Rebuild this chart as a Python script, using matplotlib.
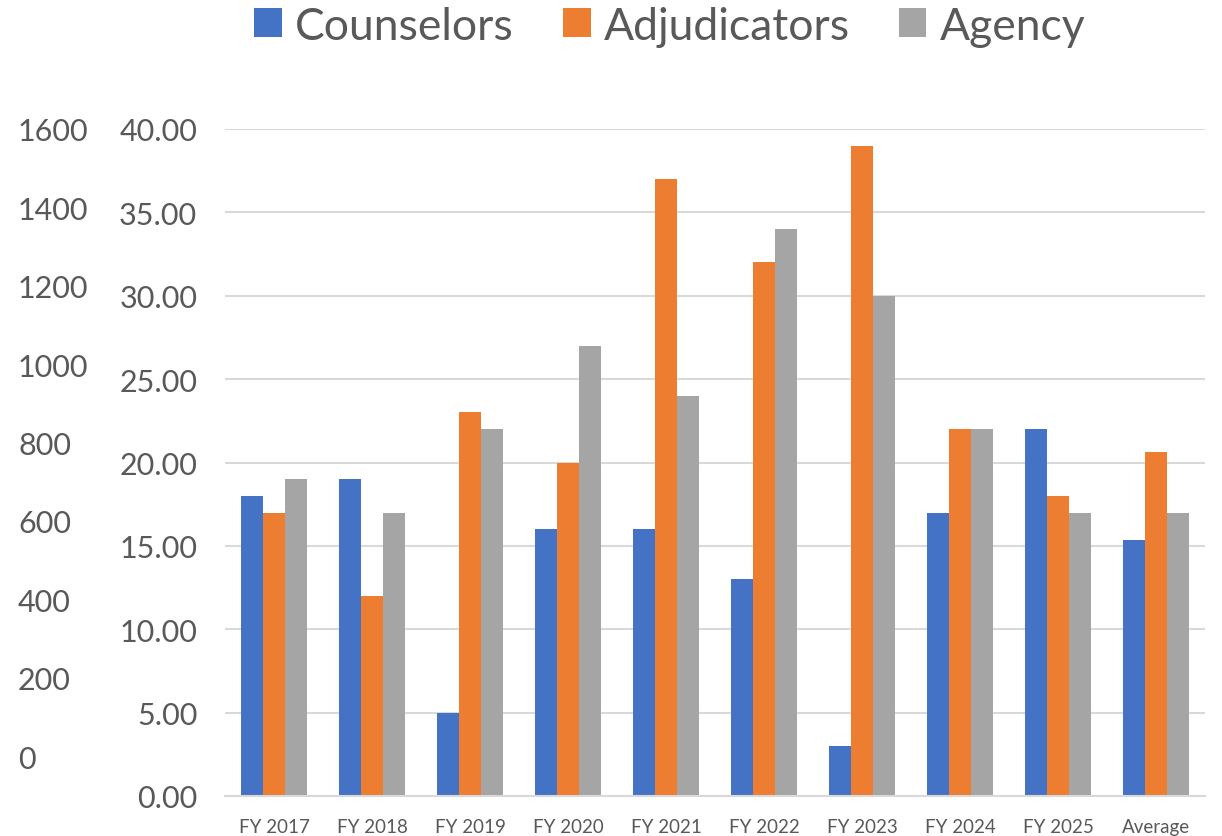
import matplotlib
matplotlib.use("Agg")
import matplotlib.pyplot as plt
import numpy as np
from matplotlib.patches import Patch

categories = ["FY 2017", "FY 2018", "FY 2019", "FY 2020", "FY 2021",
              "FY 2022", "FY 2023", "FY 2024", "FY 2025", "Average"]
counselors = [18, 19, 5, 16, 16, 13, 3, 17, 22, 15.33]
adjudicators = [17, 12, 23, 20, 37, 32, 39, 22, 18, 20.65]
agency = [19, 17, 22, 27, 24, 34, 30, 22, 17, 17.0]
series_names = ["Counselors", "Adjudicators", "Agency"]
colors = ["#4472C4", "#ED7D31", "#A5A5A5"]
left_ticks = [0, 200, 400, 600, 800, 1000, 1200, 1400, 1600]
main_ticks = [0, 5, 10, 15, 20, 25, 30, 35, 40]

FONT = "Lato"
TXT = "#595959"
GRID = "#D9D9D9"

W, H = 1222, 837
fig = plt.figure(figsize=(W / 100, H / 100), dpi=100)
L, R, B, T = 225, 1205, 797, 130
ax = fig.add_axes([L / W, 1 - B / H, (R - L) / W, (B - T) / H])

x = np.arange(len(categories))
bw = 0.2245
for i, (vals, c) in enumerate(zip([counselors, adjudicators, agency], colors)):
    ax.bar(x + (i - 1) * bw, vals, width=bw, color=c, zorder=3)

ax.set_xlim(-0.5, len(categories) - 0.5)
ax.set_ylim(0, 40)
ax.set_yticks(main_ticks)
ax.set_yticklabels([f"{v:.2f}" for v in main_ticks], fontsize=22, color=TXT, family=FONT)
ax.set_xticks(x)
ax.set_xticklabels(categories, fontsize=13.5, color=TXT, family=FONT)
ax.tick_params(axis="y", length=0, pad=20)
ax.tick_params(axis="x", length=0, pad=15.5)
ax.grid(axis="y", color=GRID, linewidth=1.5, zorder=0)
for s in ["top", "right", "left"]:
    ax.spines[s].set_visible(False)
ax.spines["bottom"].set_color(GRID)
ax.spines["bottom"].set_linewidth(1.5)
ax.spines["bottom"].set_zorder(4)

ax2 = ax.twinx()
ax2.set_ylim(-102, 1598)
ax2.set_yticks(left_ticks)
ax2.yaxis.tick_left()
ax2.set_yticklabels([str(v) for v in left_ticks], fontsize=22, color=TXT, family=FONT, ha="left")
ax2.tick_params(axis="y", length=0, pad=149)
for s in ax2.spines.values():
    s.set_visible(False)

handles = [Patch(facecolor=c, edgecolor="none") for c in colors]
fig.legend(handles, series_names, loc="center", bbox_to_anchor=(670 / W, 1 - 27 / H),
           ncol=3, frameon=False, prop={"family": FONT, "size": 32},
           labelcolor=TXT, handlelength=0.62, handleheight=0.62,
           handletextpad=0.3, columnspacing=1.1)

fig.savefig("out.png", dpi=100)
